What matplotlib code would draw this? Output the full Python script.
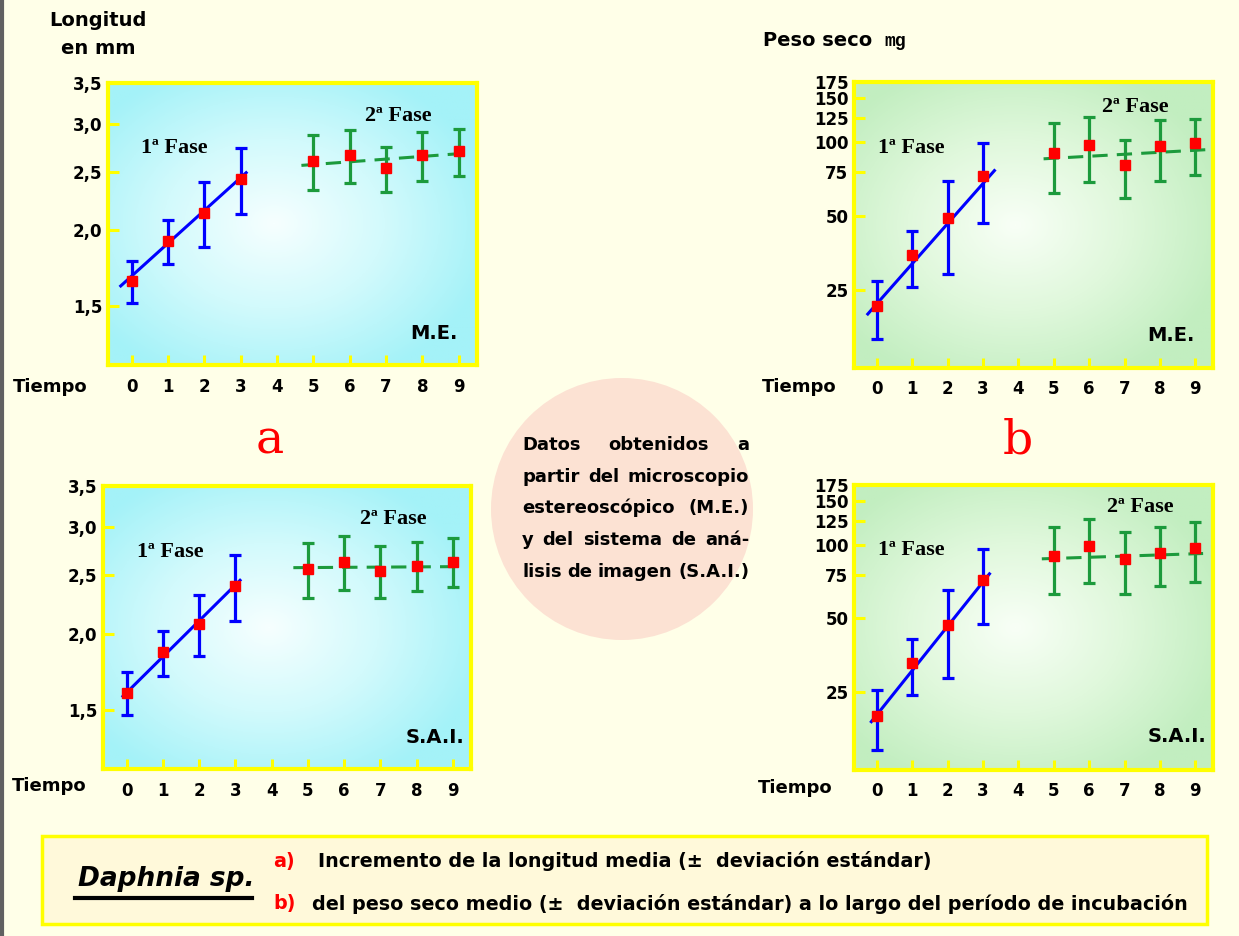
import numpy as np
import matplotlib
matplotlib.use("Agg")
import matplotlib.pyplot as plt
from matplotlib.colors import LinearSegmentedColormap
from matplotlib.patches import Ellipse, Rectangle
from matplotlib.lines import Line2D

W, H = 1239, 936

# tiempo de cada fase
t_fase1 = [0, 1, 2, 3]
t_fase2 = [5, 6, 7, 8, 9]
x_ticks = [0, 1, 2, 3, 4, 5, 6, 7, 8, 9]

# longitud media (mm) +- desviacion estandar
long_me_1 = [1.65, 1.92, 2.14, 2.43]
long_me_1_sd = [0.13, 0.16, 0.26, 0.30]
long_me_2 = [2.60, 2.66, 2.53, 2.66, 2.70]
long_me_2_sd = [0.27, 0.27, 0.22, 0.25, 0.24]
long_sai_1 = [1.60, 1.865, 2.08, 2.40]
long_sai_1_sd = [0.13, 0.16, 0.24, 0.30]
long_sai_2 = [2.56, 2.63, 2.54, 2.59, 2.63]
long_sai_2_sd = [0.265, 0.27, 0.245, 0.24, 0.24]

# peso seco medio (mg) +- desviacion estandar
peso_me_1 = [21.4, 34.5, 48.9, 72.6]
peso_me_1_sd = [5.6, 8.8, 20.0, 26.0]
peso_me_2 = [90.2, 97.2, 80.5, 95.7, 98.5]
peso_me_2_sd = [28.5, 28.5, 21.5, 26.5, 25.0]
peso_sai_1 = [20.0, 32.8, 46.7, 71.7]
peso_sai_1_sd = [5.5, 8.4, 18.3, 24.5]
peso_sai_2 = [90.1, 98.2, 87.5, 92.5, 97.0]
peso_sai_2_sd = [27.5, 28.7, 24.5, 25.0, 27.0]

# rectas de ajuste (extremos)
recta_long_me_1 = ([-0.3, 3.15], [1.62, 2.49])
recta_long_me_2 = ([4.67, 9.14], [2.56, 2.68])
recta_long_sai_1 = ([-0.1, 3.13], [1.58, 2.45])
recta_long_sai_2 = ([4.6, 9.12], [2.57, 2.58])
recta_peso_me_1 = ([-0.26, 3.32], [19.9, 76.3])
recta_peso_me_2 = ([4.71, 9.3], [85.2, 92.8])
recta_peso_sai_1 = ([-0.16, 3.18], [18.9, 75.9])
recta_peso_sai_2 = ([4.66, 9.22], [87.4, 91.9])

long_ticks = [1.5, 2.0, 2.5, 3.0, 3.5]
long_labels = ['1,5', '2,0', '2,5', '3,0', '3,5']
peso_ticks = [25, 50, 75, 100, 125, 150, 175]
peso_labels = ['25', '50', '75', '100', '125', '150', '175']

circle_lines = ['Datos obtenidos a', 'partir del microscopio', 'estereoscópico (M.E.)',
                'y del sistema de aná-', 'lisis de imagen (S.A.I.)']

BG = '#FFFFE8'
BLUE = '#0000FF'
GREEN = '#1C9A3C'
RED = '#FF0000'
YELLOW = '#FFFF00'
SANS = ['DejaVu Sans']


def px(x, y):
    return x / W, 1 - y / H


def rect(x0, y0, x1, y1):
    return [x0 / W, 1 - y1 / H, (x1 - x0) / W, (y1 - y0) / H]


cyan_cmap = LinearSegmentedColormap.from_list('cy', ['#F6FFFF', '#D2FAFC', '#A4F2F8'])
green_cmap = LinearSegmentedColormap.from_list('gr', ['#F8FFF6', '#E0F8DC', '#C2EEC0'])

gy, gx = np.mgrid[0:1:200j, 0:1:200j]
grad = np.clip(np.hypot((gx - 0.45) / 0.6, (gy - 0.5) / 0.6), 0, 1)

fig = plt.figure(figsize=(W / 100, H / 100), dpi=100, facecolor=BG)


def panel(box, cmap, ylim, yticks, ylabels, s1, e1, s2, e2, r1, r2, tag, pos1, pos2, postag):
    bg = fig.add_axes(box, zorder=0)
    bg.imshow(grad, cmap=cmap, extent=[0, 1, 0, 1], aspect='auto', origin='lower')
    bg.axis('off')
    ax = fig.add_axes(box, zorder=1)
    ax.patch.set_alpha(0)
    ax.set_yscale('log')
    ax.set_xlim(-0.65, 9.5)
    ax.set_ylim(*ylim)
    ax.plot(*r1, color=BLUE, lw=2.2, zorder=2)
    ax.plot(*r2, color=GREEN, lw=2.2, dashes=(5, 3), zorder=2)
    ax.errorbar(t_fase1, s1, yerr=e1, fmt='none', ecolor=BLUE, elinewidth=2.3,
                capsize=4, capthick=2.3, zorder=3)
    ax.errorbar(t_fase2, s2, yerr=e2, fmt='none', ecolor=GREEN, elinewidth=2.3,
                capsize=4, capthick=2.3, zorder=3)
    ax.plot(t_fase1 + t_fase2, s1 + s2, 's', color=RED, ms=7.5, zorder=4)
    ax.set_xticks(x_ticks, [str(v) for v in x_ticks], fontweight='bold', family=SANS)
    ax.set_yticks(yticks, ylabels, fontweight='bold', family=SANS)
    ax.minorticks_off()
    ax.tick_params(axis='x', direction='in', color=YELLOW, width=2.2, length=7,
                   labelsize=12, pad=9)
    ax.tick_params(axis='y', direction='in', color=YELLOW, width=2.2, length=8,
                   labelsize=12, pad=4)
    for s in ax.spines.values():
        s.set_color(YELLOW)
        s.set_linewidth(3)
    ax.text(pos1[0], pos1[1], '1ª Fase', transform=ax.transAxes, ha='center', va='center',
            family='Liberation Serif', fontweight='bold', fontsize=16)
    ax.text(pos2[0], pos2[1], '2ª Fase', transform=ax.transAxes, ha='center', va='center',
            family='Liberation Serif', fontweight='bold', fontsize=16)
    ax.text(postag[0], postag[1], tag, transform=ax.transAxes, ha='right', va='center',
            family=SANS, fontweight='bold', fontsize=14)
    return ax


panel(rect(108, 83, 477, 365), cyan_cmap, (1.2, 3.5), long_ticks, long_labels,
      long_me_1, long_me_1_sd, long_me_2, long_me_2_sd, recta_long_me_1, recta_long_me_2,
      'M.E.', (0.18, 0.77), (0.786, 0.883), (0.948, 0.11))
panel(rect(854, 82, 1213, 368), green_cmap, (12, 175), peso_ticks, peso_labels,
      peso_me_1, peso_me_1_sd, peso_me_2, peso_me_2_sd, recta_peso_me_1, recta_peso_me_2,
      'M.E.', (0.16, 0.77), (0.783, 0.913), (0.95, 0.115))
panel(rect(103, 486, 471, 769), cyan_cmap, (1.2, 3.5), long_ticks, long_labels,
      long_sai_1, long_sai_1_sd, long_sai_2, long_sai_2_sd, recta_long_sai_1, recta_long_sai_2,
      'S.A.I.', (0.182, 0.768), (0.788, 0.883), (0.981, 0.11))
panel(rect(854, 485, 1213, 770), green_cmap, (12, 175), peso_ticks, peso_labels,
      peso_sai_1, peso_sai_1_sd, peso_sai_2, peso_sai_2_sd, recta_peso_sai_1, recta_peso_sai_2,
      'S.A.I.', (0.16, 0.772), (0.797, 0.924), (0.982, 0.117))

# textos de ejes
fig.text(*px(98, 21), 'Longitud', ha='center', va='center', fontweight='bold', fontsize=14)
fig.text(*px(98, 48), 'en mm', ha='center', va='center', fontweight='bold', fontsize=14)
fig.text(*px(763, 40), 'Peso seco', ha='left', va='center', fontweight='bold', fontsize=14)
fig.text(*px(884, 42), 'mg', ha='left', va='center', fontweight='bold', fontsize=13,
         family='Liberation Mono')
for x, y in [(13, 387), (762, 387), (12, 786), (758, 788)]:
    fig.text(*px(x, y), 'Tiempo', ha='left', va='center', fontweight='bold', fontsize=13)

fig.text(*px(270, 441), 'a', ha='center', va='center', color=RED, fontsize=34,
         family='DejaVu Serif')
fig.text(*px(1018, 441), 'b', ha='center', va='center', color=RED, fontsize=34,
         family='DejaVu Serif')

# circulo central
fig.patches.append(Ellipse(px(622, 509), 262 / W, 262 / H, transform=fig.transFigure,
                           facecolor='#FCE2D3', edgecolor='none', zorder=0))
fig.canvas.draw()
rend = fig.canvas.get_renderer()
left, right = 522, 749
for line, y in zip(circle_lines, [445, 477, 508, 540, 572]):
    words = line.split()
    txts = [fig.text(0, 1 - y / H, w, ha='left', va='center', fontweight='bold', fontsize=13)
            for w in words]
    widths = [t.get_window_extent(rend).width for t in txts]
    gap = (right - left - sum(widths)) / max(len(words) - 1, 1)
    x = left
    for t, w in zip(txts, widths):
        t.set_x(x / W)
        x += w + gap

# recuadro inferior
fig.patches.append(Rectangle(px(42, 924), (1207 - 42) / W, (924 - 836) / H,
                             transform=fig.transFigure, facecolor='#FFF9DA',
                             edgecolor=YELLOW, lw=2.5, zorder=0))
fig.text(*px(166, 879), 'Daphnia sp.', ha='center', va='center', fontweight='bold',
         style='italic', fontsize=19)
fig.lines.append(Line2D([75 / W, 252 / W], [1 - 898 / H, 1 - 898 / H], color='black', lw=3,
                        transform=fig.transFigure))
fig.text(*px(273, 861), 'a)', ha='left', va='center', color=RED, fontweight='bold',
         fontsize=13.8)
fig.text(*px(318, 861), 'Incremento de la longitud media (±  deviación estándar)', ha='left',
         va='center', fontweight='bold', fontsize=13.8)
fig.text(*px(273, 904), 'b)', ha='left', va='center', color=RED, fontweight='bold',
         fontsize=13.8)
fig.text(*px(312, 904), 'del peso seco medio (±  deviación estándar) a lo largo del período de incubación',
         ha='left', va='center', fontweight='bold', fontsize=13.8)

# borde izquierdo
fig.lines.append(Line2D([2 / W, 2 / W], [0, 1], color='#606060', lw=3,
                        transform=fig.transFigure))

fig.savefig('out.png', dpi=100, facecolor=BG)
